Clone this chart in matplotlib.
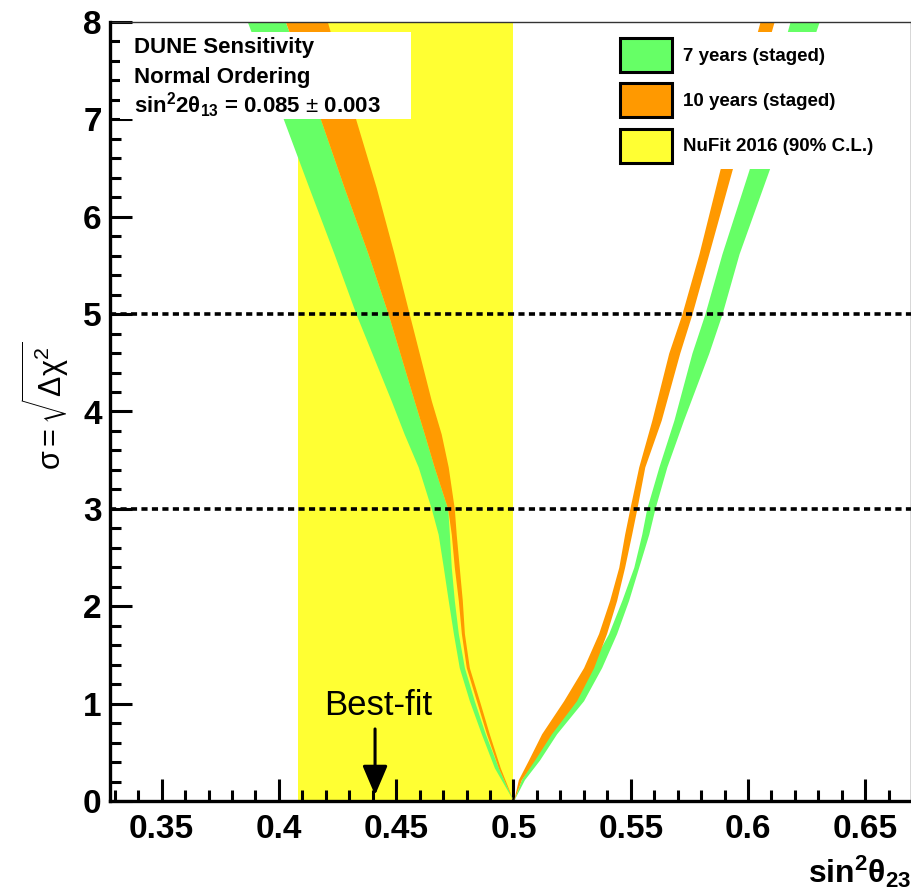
import matplotlib
matplotlib.use("Agg")
import matplotlib.pyplot as plt
from matplotlib.patches import Patch, Rectangle

plt.rcParams['font.family'] = ['Liberation Sans', 'DejaVu Sans']
plt.rcParams['mathtext.fontset'] = 'custom'
plt.rcParams['mathtext.rm'] = 'Liberation Sans'
plt.rcParams['mathtext.it'] = 'Liberation Sans:italic'
plt.rcParams['mathtext.bf'] = 'Liberation Sans:bold'
plt.rcParams['mathtext.sf'] = 'Liberation Sans'

# ---------------- data ----------------
# lower-octant branch (sin^2 theta23 < 0.5)
left_sigma = [0.0, 0.34, 0.69, 1.03, 1.37, 1.72, 2.06, 2.40, 2.74, 3.00,
              3.43, 3.77, 4.11, 5.00, 5.62, 6.30, 6.99, 8.00]
left_7yr_lo = [0.5, 0.4919, 0.4863, 0.4812, 0.4769, 0.4744, 0.4722, 0.4701, 0.4679, 0.4650,
               0.4594, 0.4534, 0.4479, 0.4329, 0.4235, 0.4128, 0.4021, 0.3866]
left_7yr_hi = [0.5, 0.4936, 0.4880, 0.4833, 0.4791, 0.4765, 0.4748, 0.4735, 0.4727, 0.4720,
               0.4662, 0.4620, 0.4577, 0.4466, 0.4380, 0.4278, 0.4179, 0.4028]
left_10yr_lo = [0.5, 0.4936, 0.4885, 0.4842, 0.4799, 0.4778, 0.4765, 0.4748, 0.4735, 0.4720,
                0.4662, 0.4620, 0.4577, 0.4466, 0.4380, 0.4278, 0.4179, 0.4028]
left_10yr_hi = [0.5, 0.4944, 0.4897, 0.4855, 0.4812, 0.4791, 0.4782, 0.4769, 0.4756, 0.4748,
                0.4722, 0.4692, 0.4650, 0.4556, 0.4491, 0.4415, 0.4329, 0.4207]

# upper-octant branch (sin^2 theta23 > 0.5)
right_sigma = [0.0, 0.22, 0.42, 0.69, 1.03, 1.37, 1.72, 2.06, 2.40, 2.74, 3.00,
               3.43, 3.91, 4.60, 5.00, 5.62, 6.48, 8.00]
right_7yr_lo = [0.5, 0.5034, 0.5085, 0.5154, 0.5256, 0.5325, 0.5406, 0.5462, 0.5513, 0.5547, 0.5568,
                0.5620, 0.5684, 0.5761, 0.5816, 0.5889, 0.6004, 0.6179]
right_7yr_hi = [0.5, 0.5047, 0.5111, 0.5184, 0.5299, 0.5376, 0.5440, 0.5491, 0.5534, 0.5577, 0.5603,
                0.5654, 0.5725, 0.5833, 0.5889, 0.5962, 0.6090, 0.6303]
right_10yr_lo = [0.5, 0.5021, 0.5064, 0.5120, 0.5214, 0.5299, 0.5363, 0.5410, 0.5449, 0.5474, 0.5496,
                 0.5534, 0.5590, 0.5662, 0.5718, 0.5791, 0.5880, 0.6051]
right_10yr_hi = [0.5, 0.5034, 0.5090, 0.5162, 0.5269, 0.5342, 0.5397, 0.5440, 0.5474, 0.5504, 0.5526,
                 0.5560, 0.5630, 0.5709, 0.5761, 0.5833, 0.5932, 0.6111]

nufit_range = [0.408, 0.500]
best_fit = 0.441
sigma_lines = [3, 5]

x_ticks = [0.35, 0.40, 0.45, 0.50, 0.55, 0.60, 0.65]
x_tick_labels = ['0.35', '0.4', '0.45', '0.5', '0.55', '0.6', '0.65']
y_ticks = [0, 1, 2, 3, 4, 5, 6, 7, 8]
y_tick_labels = ['0', '1', '2', '3', '4', '5', '6', '7', '8']

labels = ['7 years (staged)', '10 years (staged)', 'NuFit 2016 (90% C.L.)']
c_green = '#66FF66'
c_orange = '#FF9900'
c_yellow = '#FFFF33'

# ---------------- figure ----------------
fig = plt.figure(figsize=(9.12, 8.96), dpi=100)
ax = fig.add_axes([110/912, 1-801/896, 801/912, 779/896])

ax.axvspan(nufit_range[0], nufit_range[1], color=c_yellow, lw=0, zorder=1)

ax.fill_betweenx(left_sigma, left_7yr_lo, left_7yr_hi, color=c_green, lw=0, zorder=2)
ax.fill_betweenx(right_sigma, right_7yr_lo, right_7yr_hi, color=c_green, lw=0, zorder=2)
ax.fill_betweenx(left_sigma, left_10yr_lo, left_10yr_hi, color=c_orange, lw=0, zorder=2.1)
ax.fill_betweenx(right_sigma, right_10yr_lo, right_10yr_hi, color=c_orange, lw=0, zorder=2.1)

for s in sigma_lines:
    ax.axhline(s, color='black', lw=2.6, linestyle=(0, (1.7, 1.2)), zorder=3)

ax.set_xlim(0.328, 0.6695)
ax.set_ylim(0, 8)

ax.set_xticks(x_ticks)
ax.set_xticklabels(x_tick_labels)
ax.set_yticks(y_ticks)
ax.set_yticklabels(y_tick_labels)
ax.set_xticks([v/100 for v in range(33, 67)], minor=True)
ax.set_yticks([v/5 for v in range(0, 41)], minor=True)
ax.tick_params(which='both', direction='in', top=False, right=False, width=2.2,
               color='black')
ax.tick_params(which='major', length=16)
ax.tick_params(which='minor', length=8)
ax.tick_params(axis='x', which='major', labelsize=24, pad=9)
ax.tick_params(axis='y', which='major', labelsize=24, pad=6)
for lab in ax.get_xticklabels() + ax.get_yticklabels():
    lab.set_fontweight('bold')

for side in ['left', 'bottom']:
    ax.spines[side].set_linewidth(2.4)
    ax.spines[side].set_color('black')
    ax.spines[side].set_zorder(6)
for side in ['top', 'right']:
    ax.spines[side].set_linewidth(1.0)
    ax.spines[side].set_color('#333333')

# info box
ax.add_patch(Rectangle((0.012, 0.8755), 0.364, 0.112, transform=ax.transAxes,
                       facecolor='white', edgecolor='none', zorder=4))
ax.text(0.030, 0.9602, 'DUNE Sensitivity', transform=ax.transAxes, fontsize=16,
        fontweight='bold', va='baseline', ha='left', zorder=5)
ax.text(0.030, 0.9217, 'Normal Ordering', transform=ax.transAxes, fontsize=16,
        fontweight='bold', va='baseline', ha='left', zorder=5)
ax.text(0.030, 0.8832, r'sin$^{\mathbf{2}}$2$\mathbf{\theta_{13}}$ = 0.085 $\pm$ 0.003',
        transform=ax.transAxes, fontsize=16, fontweight='bold',
        va='baseline', ha='left', zorder=5)

# best-fit arrow
ax.annotate('', xy=(best_fit, 0.06), xytext=(best_fit, 0.74),
            arrowprops=dict(arrowstyle='-|>,head_length=0.4,head_width=0.17',
                            lw=2.2, color='black', mutation_scale=45,
                            shrinkA=0, shrinkB=0), zorder=5)
ax.text(best_fit + 0.0015, 0.88, 'Best-fit', fontsize=25, ha='center', va='baseline', zorder=5)

# legend
handles = [Patch(facecolor=c_green, edgecolor='black', lw=2.2, joinstyle='round'),
           Patch(facecolor=c_orange, edgecolor='black', lw=2.2, joinstyle='round'),
           Patch(facecolor=c_yellow, edgecolor='black', lw=2.2, joinstyle='round')]
leg = ax.legend(handles, labels, loc='upper left',
                bbox_to_anchor=((614-110)/801, (801-32)/779),
                borderaxespad=0, borderpad=0.33, frameon=True, fancybox=False,
                framealpha=1, facecolor='white', edgecolor='none',
                prop={'size': 13.5, 'weight': 'bold'},
                handlelength=2.75, handleheight=2.41, handletextpad=0.6,
                labelspacing=0.6)
leg.set_zorder(7)

# axis titles
fig.text(0.999, 1-883/896, r'$\mathbf{sin^{2}\theta_{23}}$', fontsize=23,
         ha='right', va='baseline')
fig.text(45/912, 1-406/896, r'$\mathrm{\sigma} = \sqrt{\mathrm{\Delta\chi}^{2}}$',
         fontsize=22, rotation=90, ha='center', va='center')

fig.savefig('out.png', dpi=100)
